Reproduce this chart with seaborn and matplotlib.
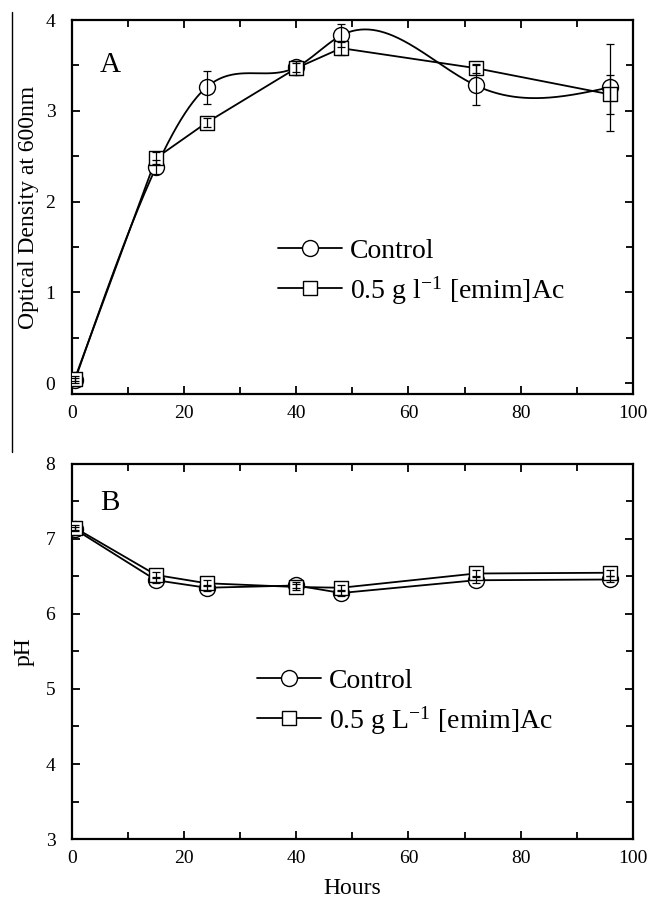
import numpy as np
import seaborn as sns
import matplotlib.pyplot as plt
from matplotlib.lines import Line2D
from matplotlib.ticker import MultipleLocator

# Sampling times (hours)
hours = [0.5, 15, 24, 40, 48, 72, 96]

# Panel A: optical density at 600 nm
od_control = [0.03, 2.38, 3.26, 3.48, 3.83, 3.28, 3.26]
od_control_err = [0.03, 0.08, 0.18, 0.05, 0.13, 0.22, 0.48]
od_il = [0.05, 2.48, 2.87, 3.47, 3.69, 3.47, 3.18]
od_il_err = [0.03, 0.07, 0.05, 0.08, 0.07, 0.05, 0.21]

# Panel B: pH
ph_control = [7.13, 6.45, 6.35, 6.38, 6.28, 6.45, 6.46]
ph_control_err = [0.03, 0.04, 0.04, 0.04, 0.04, 0.04, 0.04]
ph_il = [7.15, 6.52, 6.41, 6.36, 6.35, 6.54, 6.55]
ph_il_err = [0.03, 0.04, 0.04, 0.04, 0.04, 0.04, 0.04]

legend_a = ["Control", r"0.5 g l$^{\mathregular{-1}}$ [emim]Ac"]
legend_b = ["Control", r"0.5 g L$^{\mathregular{-1}}$ [emim]Ac"]


def natural_spline(x, y, n=400):
    # smooth connecting curve through the measured points (natural cubic spline)
    x = np.asarray(x, float)
    y = np.asarray(y, float)
    k = len(x)
    h = np.diff(x)
    A = np.zeros((k, k))
    b = np.zeros(k)
    A[0, 0] = A[-1, -1] = 1
    for i in range(1, k - 1):
        A[i, i - 1] = h[i - 1]
        A[i, i] = 2 * (h[i - 1] + h[i])
        A[i, i + 1] = h[i]
        b[i] = 6 * ((y[i + 1] - y[i]) / h[i] - (y[i] - y[i - 1]) / h[i - 1])
    M = np.linalg.solve(A, b)
    xs = np.linspace(x[0], x[-1], n)
    idx = np.clip(np.searchsorted(x, xs) - 1, 0, k - 2)
    x0, x1 = x[idx], x[idx + 1]
    hh = x1 - x0
    ys = (M[idx] * (x1 - xs) ** 3 / (6 * hh) + M[idx + 1] * (xs - x0) ** 3 / (6 * hh)
          + (y[idx] / hh - M[idx] * hh / 6) * (x1 - xs)
          + (y[idx + 1] / hh - M[idx + 1] * hh / 6) * (xs - x0))
    return xs, ys


sns.set_style("ticks", {"xtick.direction": "in", "ytick.direction": "in",
                        "axes.edgecolor": "black", "text.color": "black",
                        "axes.labelcolor": "black", "xtick.color": "black",
                        "ytick.color": "black"})
plt.rcParams["font.family"] = ["Liberation Serif", "DejaVu Serif"]
plt.rcParams["mathtext.fontset"] = "stix"

fig = plt.figure(figsize=(6.49, 8.98), dpi=100)
ax1 = fig.add_axes([0.111, 0.5612, 0.864, 0.4165])
ax2 = fig.add_axes([0.111, 0.0657, 0.864, 0.4176])

circ_ms = 11.5
sq_ms = 10


def draw_panel(ax, yc, yc_err, ys, ys_err, smooth):
    if smooth:
        sx, sy = natural_spline(hours, yc)
    else:
        sx, sy = hours, yc
    sns.lineplot(x=sx, y=sy, ax=ax, color="black", lw=1.3, zorder=2)
    sns.lineplot(x=hours, y=ys, ax=ax, color="black", lw=1.3, zorder=2)
    sns.scatterplot(x=hours, y=yc, ax=ax, marker="o", s=circ_ms ** 2,
                    facecolor="white", edgecolor="black", linewidth=1.0, zorder=3)
    sns.scatterplot(x=hours, y=ys, ax=ax, marker="s", s=sq_ms ** 2,
                    facecolor="white", edgecolor="black", linewidth=1.0, zorder=3)
    ax.errorbar(hours, yc, yerr=yc_err, fmt="none", ecolor="black",
                elinewidth=0.9, capsize=3.2, capthick=0.9, zorder=4)
    ax.errorbar(hours, ys, yerr=ys_err, fmt="none", ecolor="black",
                elinewidth=0.9, capsize=3.2, capthick=0.9, zorder=4)
    ax.set_xlim(0, 100)
    ax.xaxis.set_major_locator(MultipleLocator(20))
    ax.xaxis.set_minor_locator(MultipleLocator(10))
    ax.yaxis.set_major_locator(MultipleLocator(1))
    ax.yaxis.set_minor_locator(MultipleLocator(0.5))
    ax.tick_params(which="both", direction="in", top=True, right=True,
                   labelsize=14, width=1.3, colors="black")
    ax.tick_params(axis="x", which="both", pad=8)
    ax.tick_params(axis="y", which="both", pad=12)
    ax.tick_params(which="major", length=6)
    ax.tick_params(which="minor", length=5)
    for sp in ax.spines.values():
        sp.set_linewidth(1.6)
        sp.set_color("black")


def legend_handles():
    return [Line2D([], [], color="black", lw=1.3, marker="o", ms=circ_ms,
                   mfc="white", mec="black"),
            Line2D([], [], color="black", lw=1.3, marker="s", ms=sq_ms,
                   mfc="white", mec="black")]


draw_panel(ax1, od_control, od_control_err, od_il, od_il_err, True)
ax1.set_ylim(-0.12, 4.0)
ax1.set_ylabel("Optical Density at 600nm", fontsize=17, labelpad=5)
ax1.text(0.05, 0.88, "A", transform=ax1.transAxes, fontsize=21, va="center")
ax1.legend(legend_handles(), legend_a, loc="center left",
           bbox_to_anchor=(0.367, 0.325), frameon=False, fontsize=20,
           handlelength=2.3, handletextpad=0.3, labelspacing=0.35,
           borderpad=0, borderaxespad=0)

draw_panel(ax2, ph_control, ph_control_err, ph_il, ph_il_err, False)
ax2.set_ylim(3, 8)
ax2.set_ylabel("pH", fontsize=17, labelpad=8)
ax2.set_xlabel("Hours", fontsize=17, labelpad=8)
ax2.text(0.05, 0.896, "B", transform=ax2.transAxes, fontsize=21, va="center")
ax2.legend(legend_handles(), legend_b, loc="center left",
           bbox_to_anchor=(0.33, 0.364), frameon=False, fontsize=20,
           handlelength=2.3, handletextpad=0.3, labelspacing=0.35,
           borderpad=0, borderaxespad=0)

# thin rule at the left edge of panel A, as in the source figure
fig.add_artist(Line2D([12 / 649, 12 / 649], [1 - 12 / 898, 1 - 452 / 898],
                      color="black", lw=1.0))

fig.savefig("out.png", dpi=100)
